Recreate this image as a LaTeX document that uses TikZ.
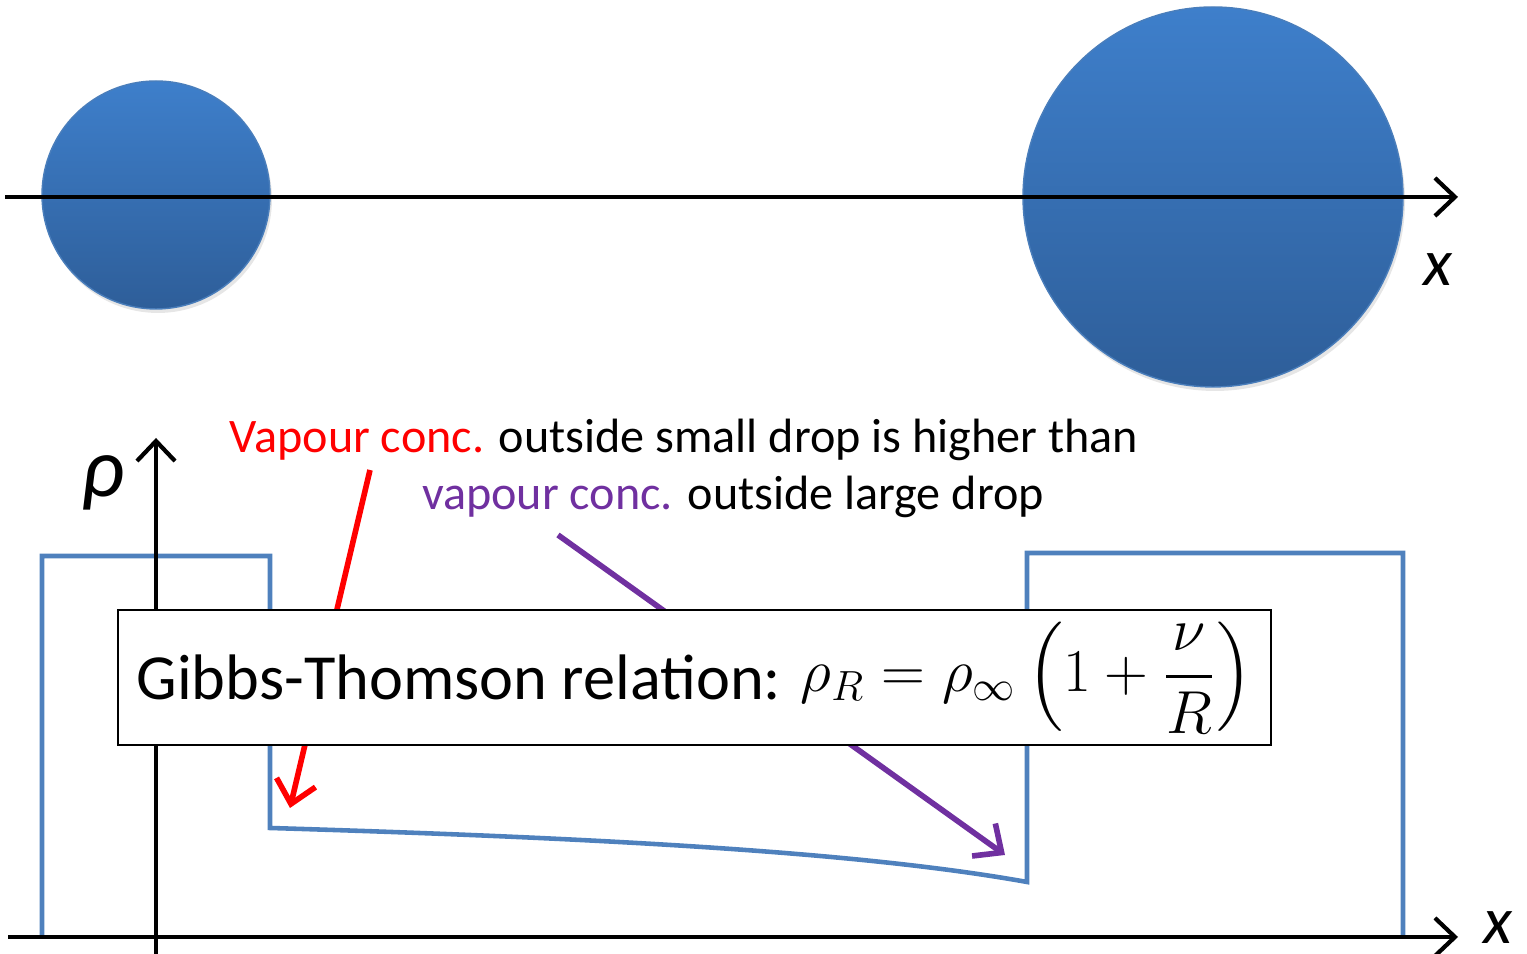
\documentclass[tikz,border=0pt]{standalone}
\usepackage{fontspec}
\setmainfont{Carlito}
\usepackage{amsmath}
\usepackage{tikz}
\usetikzlibrary{arrows.meta, positioning, calc, shadows}
\definecolor{gtDropTop}{HTML}{3E7FCB}
\definecolor{gtDropBot}{HTML}{2E5E99}
\definecolor{gtDropRim}{HTML}{4A7EBB}
\definecolor{gtLine}{HTML}{4F81BD}
\definecolor{gtRed}{HTML}{FF0000}
\definecolor{gtPurple}{HTML}{7030A0}

\begin{document}
\begin{tikzpicture}[
      drop/.style={circle, draw=gtDropRim, thin, top color=gtDropTop,
                   bottom color=gtDropBot, inner sep=0pt,
                   drop shadow={opacity=0.2, shadow xshift=0.02, shadow yshift=-0.04}},
      axis/.style={line width=1.2pt, -{Straight Barb[length=2mm, width=3.8mm, line width=1.2pt]}},
      profile/.style={gtLine, line width=1.3pt, line join=miter},
      pointer/.style={line width=1.6pt, -{Straight Barb[length=2.2mm, width=4mm, line width=1.6pt]}},
      note/.style={font=\fontsize{13.7}{16}\selectfont, inner sep=0pt},
      axlabel/.style={font=\fontsize{19}{21}\selectfont\itshape, inner sep=0pt},
      relbox/.style={draw, thin, fill=white, minimum width=11.53cm,
                     minimum height=1.35cm, inner sep=0pt,
                     font=\fontsize{18.3}{22}\selectfont}]
    \useasboundingbox (0,0) rectangle (15.27,9.54);
    % drops on the line
    \node[drop, minimum size=2.28cm] (small) at (1.56,7.59) {};
    \node[drop, minimum size=3.80cm] (large) at (12.13,7.57) {};
    \coordinate (xa0) at (0.05,7.57);
    \coordinate (xa1) at (14.58,7.57);
    \draw[axis] (xa0) -- (xa1);
    \node[axlabel] (xtop) at (14.38,6.84) {x};
    % density profile
    \coordinate (xb0) at (0.08,0.17);
    \coordinate (xb1) at (14.58,0.17);
    \coordinate (yb0) at (1.56,0);
    \coordinate (yb1) at (1.56,5.16);
    \draw[profile] (0.42,0.17) -- (0.42,3.98) -- (2.70,3.98) -- (2.70,1.26)
      .. controls (6.0,1.16) and (8.6,1.02) .. (10.27,0.72)
      -- (10.27,4.01) -- (14.03,4.01) -- (14.03,0.17);
    \draw[axis] (xb0) -- (xb1);
    \draw[axis] (yb0) -- (yb1);
    \node[axlabel] (xbot) at (14.98,0.26) {x};
    \node[font=\fontsize{24}{26}\selectfont\itshape, inner sep=0pt] (rho) at (1.03,4.71) {ρ};
    % captions and pointers
    \node[note] (small txt) at (6.84,5.14)
      {{\color{gtRed}Vapour conc.} outside small drop is higher than};
    \node[note] (large txt) at (7.33,4.57)
      {{\color{gtPurple}vapour conc.} outside large drop};
    \coordinate (rs) at (3.70,4.84);
    \coordinate (re) at (2.90,1.46);
    \coordinate (ps) at (5.58,4.19);
    \coordinate (pe) at (10.05,0.99);
    \draw[pointer, gtRed] (rs) -- (re);
    \draw[pointer, gtPurple] (ps) -- (pe);
    \node[relbox] (gt) at (6.945,2.765)
      {Gibbs-Thomson relation: \raisebox{0.08cm}{\smash{$\rho_R = \rho_\infty \left(1 + \dfrac{\nu}{R}\right)$}}};
  \end{tikzpicture}
\end{document}
